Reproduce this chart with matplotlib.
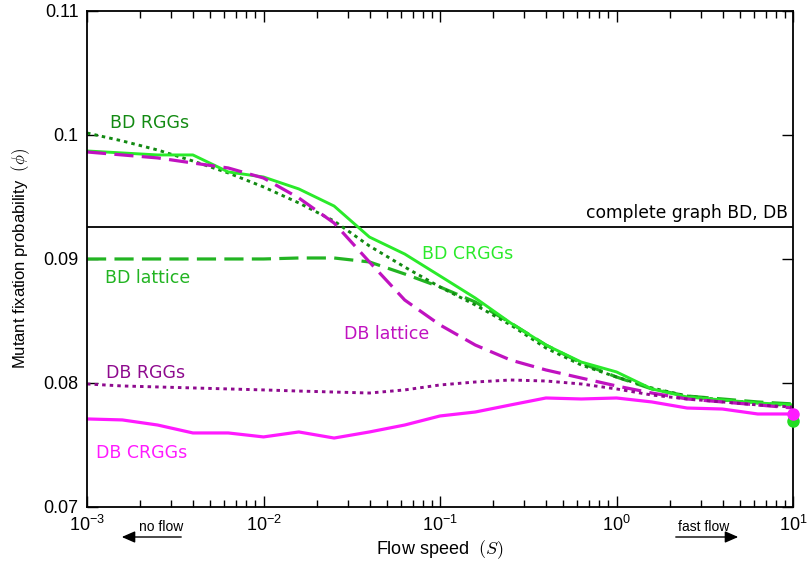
import numpy as np
import matplotlib
matplotlib.use("Agg")
import matplotlib.pyplot as plt
from matplotlib.ticker import FuncFormatter, LogLocator, NullFormatter

plt.rcParams['font.family'] = ['Liberation Sans', 'DejaVu Sans']
plt.rcParams['mathtext.fontset'] = 'cm'

# Flow speed grid (log spaced, 0.2 decades)
log_S = [-3.0, -2.8, -2.6, -2.4, -2.2, -2.0, -1.8, -1.6, -1.4, -1.2, -1.0,
         -0.8, -0.6, -0.4, -0.2, 0.0, 0.2, 0.4, 0.6, 0.8, 1.0]
S = [10 ** v for v in log_S]

bd_crggs = [0.09871, 0.09855, 0.09839, 0.09839, 0.09702, 0.09661, 0.09565, 0.09427,
            0.09177, 0.09040, 0.08863, 0.08685, 0.08484, 0.08306, 0.08169, 0.08089,
            0.07952, 0.07887, 0.07863, 0.07839, 0.07823]
bd_rggs = [0.10016, 0.09952, 0.09879, 0.09790, 0.09694, 0.09581, 0.09452, 0.09306,
           0.09105, 0.08935, 0.08774, 0.08629, 0.08468, 0.08282, 0.08145, 0.08048,
           0.07960, 0.07895, 0.07863, 0.07839, 0.07815]
bd_lattice = [0.09000, 0.09000, 0.09000, 0.09000, 0.09000, 0.09000, 0.09008, 0.09008,
              0.08976, 0.08879, 0.08774, 0.08653, 0.08484, 0.08306, 0.08161, 0.08048,
              0.07952, 0.07895, 0.07871, 0.07847, 0.07831]
db_lattice = [0.09863, 0.09839, 0.09815, 0.09774, 0.09734, 0.09653, 0.09492, 0.09290,
              0.08976, 0.08669, 0.08468, 0.08306, 0.08185, 0.08105, 0.08040, 0.07976,
              0.07919, 0.07871, 0.07847, 0.07823, 0.07798]
db_rggs = [0.07992, 0.07976, 0.07968, 0.07960, 0.07952, 0.07944, 0.07935, 0.07927,
           0.07919, 0.07944, 0.07984, 0.08008, 0.08024, 0.08016, 0.07992, 0.07952,
           0.07903, 0.07871, 0.07847, 0.07823, 0.07806]
db_crggs = [0.07710, 0.07702, 0.07661, 0.07597, 0.07597, 0.07565, 0.07605, 0.07556,
            0.07605, 0.07661, 0.07734, 0.07766, 0.07823, 0.07879, 0.07871, 0.07879,
            0.07847, 0.07798, 0.07790, 0.07750, 0.07750]

complete_graph = 0.09258
end_S = 10.0
end_db = 0.0775
end_bd = 0.0769

c_bd_crggs = '#2aea2a'
c_bd_rggs = '#128a12'
c_bd_lattice = '#22b422'
c_db_lattice = '#c012c0'
c_db_rggs = '#8e0a8e'
c_db_crggs = '#ff1aff'

fig = plt.figure(figsize=(8.07, 5.63), dpi=100)
ax = fig.add_axes([0.1078, 0.0995, 0.8749, 0.881])

ax.axhline(complete_graph, color='black', lw=1.3)
ax.plot(S, bd_lattice, color=c_bd_lattice, lw=2.3, ls=(0, (6, 2.6)))
ax.plot(S, bd_rggs, color=c_bd_rggs, lw=2.1, ls=(0, (1.2, 1.4)))
ax.plot(S, bd_crggs, color=c_bd_crggs, lw=2.1)
ax.plot(S, db_lattice, color=c_db_lattice, lw=2.3, ls=(0, (6, 2.6)))
ax.plot(S, db_rggs, color=c_db_rggs, lw=2.1, ls=(0, (1.2, 1.4)))
ax.plot(S, db_crggs, color=c_db_crggs, lw=2.3)
ax.plot([end_S], [end_bd], 'o', color='#22dd22', ms=8, clip_on=False, zorder=5)
ax.plot([end_S], [end_db], 'o', color=c_db_crggs, ms=8, clip_on=False, zorder=6)

ax.set_xscale('log')
ax.set_xlim(1e-3, 1e1)
ax.set_ylim(0.07, 0.11)
ax.set_yticks([0.07, 0.08, 0.09, 0.10, 0.11])
ax.set_yticklabels(['0.07', '0.08', '0.09', '0.1', '0.11'])
ax.xaxis.set_major_locator(LogLocator(base=10, numticks=10))
ax.xaxis.set_minor_locator(LogLocator(base=10, subs=np.arange(2, 10), numticks=20))
ax.xaxis.set_minor_formatter(NullFormatter())
ax.xaxis.set_major_formatter(FuncFormatter(lambda v, p: r'$\mathregular{10^{%d}}$' % int(round(np.log10(v)))))
ax.tick_params(which='both', direction='in', top=True, right=True, labelsize=13, width=1)
ax.tick_params(which='major', length=8, pad=6)
ax.tick_params(which='minor', length=5)
for s in ax.spines.values():
    s.set_linewidth(1.3)

ax.set_xlabel(r'Flow speed  $(S)$', fontsize=13, labelpad=2)
ax.set_ylabel(r'Mutant fixation probability  $(\phi)$', fontsize=12, labelpad=8)

lab = dict(fontsize=12.5, family='DejaVu Sans', va='center')
ax.text(1.35e-3, 0.10100, 'BD RGGs', color=c_bd_rggs, **lab)
ax.text(1.265e-3, 0.08847, 'BD lattice', color=c_bd_lattice, **lab)
ax.text(0.0791, 0.09040, 'BD CRGGs', color=c_bd_crggs, **lab)
ax.text(0.02857, 0.08395, 'DB lattice', color=c_db_lattice, **lab)
ax.text(1.28e-3, 0.08080, 'DB RGGs', color=c_db_rggs, **lab)
ax.text(1.125e-3, 0.07436, 'DB CRGGs', color=c_db_crggs, **lab)
ax.text(9.4, 0.09371, 'complete graph BD, DB', color='black', fontsize=12.3,
        family='DejaVu Sans', ha='right', va='center')

# flow direction annotations below the axis
fig.text(183 / 807, 1 - 527 / 563, 'no flow', fontsize=10, ha='right', va='center')
fig.text(678 / 807, 1 - 527 / 563, 'fast flow', fontsize=10, ha='left', va='center')
fig.add_artist(matplotlib.patches.FancyArrowPatch((184 / 807, 1 - 537 / 563), (119 / 807, 1 - 537 / 563),
               transform=fig.transFigure, arrowstyle='-|>,head_length=8,head_width=3.5', color='black', lw=1, mutation_scale=1))
fig.add_artist(matplotlib.patches.FancyArrowPatch((673 / 807, 1 - 537 / 563), (741 / 807, 1 - 537 / 563),
               transform=fig.transFigure, arrowstyle='-|>,head_length=8,head_width=3.5', color='black', lw=1, mutation_scale=1))

fig.savefig('out.png', dpi=100)
